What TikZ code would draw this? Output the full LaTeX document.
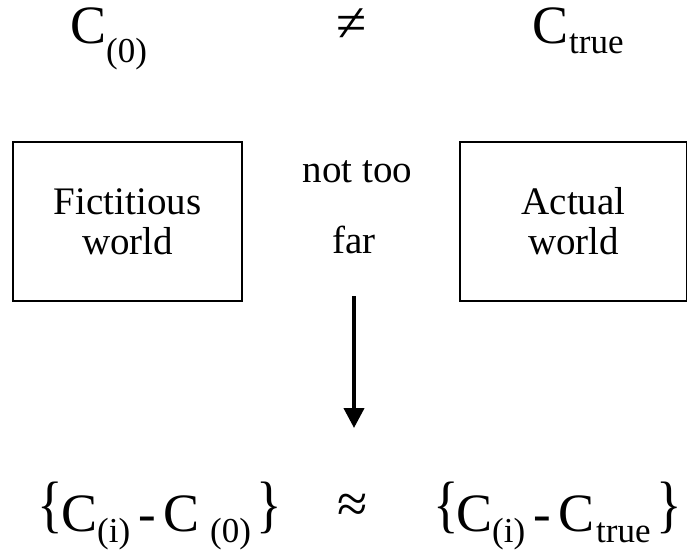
\documentclass[tikz,border=0pt]{standalone}
\usepackage{fontspec}
\setmainfont{Liberation Serif}
\usetikzlibrary{arrows.meta}
% piece placed at horizontal offset #1, vertical shift #2, text #3
\newcommand\piece[3]{\rlap{\hspace*{#1}\raisebox{#2}{#3}}}
\newcommand\bigC{{\fontsize{54}{54}\selectfont C}}
\newcommand\subt[1]{{\fontsize{35}{35}\selectfont #1}}
\newcommand\hyph{{\fontsize{53}{53}\selectfont -}}
\newcommand\lbr{\scalebox{0.95}[1.12]{\fontsize{56}{56}\selectfont \{}}
\newcommand\rbr{\scalebox{0.95}[1.12]{\fontsize{56}{56}\selectfont \}}}
\tikzset{
  box/.style={draw, line width=2.2pt, minimum height=159pt, inner sep=0pt, align=center,
    font=\fontsize{39}{40}\selectfont},
  lbl/.style={inner sep=0pt, anchor=base, font=\fontsize{39}{40}\selectfont},
  expr/.style={inner sep=0pt, anchor=base west},
  arr/.style={line width=4pt, -{Triangle[width=20pt,length=20pt]}}
}
\begin{document}
\begin{tikzpicture}[x=1pt,y=-1pt]
\useasboundingbox (0,0) rectangle (687,549);
% top row
\node[expr] (c0) at (70.5,43) {\piece{0pt}{0pt}{\bigC}\piece{35.5pt}{-19pt}{\subt{(0)}}\hspace*{77pt}};
\node[inner sep=0pt] (neq) at (351.5,25) {\fontsize{55}{55}\selectfont ≠};
\node[expr] (ctrue) at (532.5,43) {\piece{0pt}{0pt}{\bigC}\piece{36.5pt}{-10pt}{\subt{true}}\hspace*{88pt}};
% boxes
\node[box, minimum width=229pt] (fict) at (127.5,221.5) {Fictitious\\world};
\node[box, minimum width=227pt] (act) at (573.5,221.5) {Actual\\world};
\node[lbl] (nottoo) at (357.5,182) {not too};
\node[lbl] (far) at (354,253) {far};
% arrow
\coordinate (astart) at (354,296);
\coordinate (aend) at (354,428);
\draw[arr] (astart) -- (aend);
% bottom row
\node[expr] (lhs) at (39,531) {\piece{-1.5pt}{6pt}{\lbr}\piece{22pt}{0pt}{\bigC}\piece{58pt}{-11pt}{\subt{(i)}}\piece{99pt}{0pt}{\hyph}\piece{124pt}{0pt}{\bigC}\piece{171pt}{-11pt}{\subt{(0)}}\piece{217.5pt}{6pt}{\rbr}\hspace*{245pt}};
\node[inner sep=0pt] (approx) at (352.5,508) {\fontsize{55}{55}\selectfont ≈};
\node[expr] (rhs) at (436,531) {\piece{-2.5pt}{6pt}{\lbr}\piece{20.5pt}{0pt}{\bigC}\piece{56pt}{-11pt}{\subt{(i)}}\piece{97pt}{0pt}{\hyph}\piece{122pt}{0pt}{\bigC}\piece{160pt}{-11pt}{\subt{true}}\piece{220.5pt}{6pt}{\rbr}\hspace*{248pt}};
\end{tikzpicture}
\end{document}
